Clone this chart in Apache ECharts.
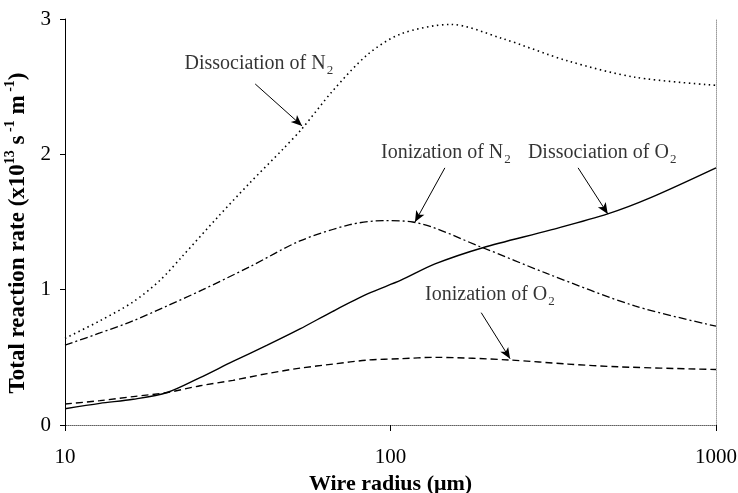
<!DOCTYPE html>
<html><head><meta charset="utf-8">
<script src="https://cdn.jsdelivr.net/npm/echarts@6/dist/echarts.min.js"></script>
<style>html,body{margin:0;padding:0;background:#fff}#c{width:738px;height:493px}</style>
</head><body><div id="c"></div>
<script>
// Data (x: wire radius in µm, y: total reaction rate x1e13 s^-1 m^-1)
const dissN2 = [[10,0.64],[12.8,0.77],[16.2,0.91],[19.6,1.07],[23,1.25],[29.3,1.53],[37,1.79],[46.8,2.04],[53.5,2.19],[66.5,2.47],[85.3,2.74],[107.7,2.89],[153,2.96],[218,2.86],[351,2.69],[563,2.57],[1000,2.51]];
const ionN2 = [[10,0.59],[12.8,0.68],[16.2,0.77],[20.6,0.88],[26.5,1.00],[37,1.17],[52.7,1.36],[75,1.48],[95,1.51],[117,1.50],[192,1.31],[302,1.12],[563,0.88],[1000,0.73]];
const dissO2 = [[10,0.12],[12.8,0.16],[16.2,0.19],[20.6,0.24],[26,0.35],[32.8,0.47],[41.8,0.59],[52.7,0.71],[66.5,0.84],[85.3,0.97],[107.7,1.07],[137,1.19],[192,1.31],[309,1.44],[465,1.56],[630,1.68],[1000,1.90]];
const ionO2 = [[10,0.155],[12.8,0.18],[16.2,0.21],[20.6,0.24],[26,0.29],[32.8,0.33],[41.8,0.38],[52.7,0.42],[66.5,0.45],[85.3,0.48],[107.7,0.49],[137,0.50],[233,0.48],[351,0.45],[500,0.43],[1000,0.41]];
const xTicks = [10, 100, 1000];
const yTicks = [0, 1, 2, 3];
// Annotation labels [x, y, text] and arrows [[x0,y0],[x1,y1]]
const labelData = [
  [39.4, 2.67, 'Dissociation of N{s|2}'],
  [148, 2.01, 'Ionization of N{s|2}'],
  [447, 2.01, 'Dissociation of O{s|2}'],
  [202, 0.96, 'Ionization of O{s|2}']
];
const arrows = [
  [[38.4, 2.52], [53.5, 2.21]],
  [[146.9, 1.90], [118.9, 1.50]],
  [[377, 1.90], [465, 1.56]],
  [[190, 0.83], [233, 0.49]]
];

const FONT = '"Liberation Serif", "Times New Roman", serif';
const chart = echarts.init(document.getElementById('c'), null, {renderer: 'canvas'});
const lineBase = {type: 'line', smooth: 0.3, showSymbol: false, symbol: 'none', xAxisIndex: 0, yAxisIndex: 0, z: 3};
chart.setOption({
  animation: false,
  backgroundColor: '#fff',
  grid: {left: 65, right: 22, top: 19, bottom: 68, containLabel: false, outerBoundsMode: 'none'},
  xAxis: [{
    type: 'log', logBase: 10, min: 10, max: 1000,
    name: 'Wire radius (μm)', nameLocation: 'middle', nameGap: 45,
    nameTextStyle: {fontFamily: FONT, fontWeight: 'bold', fontSize: 22, color: '#000'},
    axisLine: {lineStyle: {color: '#000', width: 1}},
    axisTick: {show: true, length: 6, lineStyle: {color: '#000'}},
    minorTick: {show: false},
    splitLine: {show: false},
    axisLabel: {fontFamily: FONT, fontSize: 21, color: '#000', margin: 22,
      formatter: v => xTicks.includes(Math.round(v)) ? String(Math.round(v)) : ''}
  }, {
    type: 'log', logBase: 10, min: 10, max: 1000, position: 'top',
    axisLine: {show: true, lineStyle: {color: '#9a9a9a', width: 1, type: 'dotted'}},
    axisTick: {show: false}, axisLabel: {show: false}, splitLine: {show: false}
  }],
  yAxis: [{
    type: 'value', min: 0, max: 3, interval: 1,
    name: '{b|Total reaction rate (x10}{sp|13}{b| s}{sp| -1}{b| m}{sp| -1}{b|)}',
    nameLocation: 'middle', nameGap: 35, nameRotate: 90,
    nameTextStyle: {fontFamily: FONT, fontWeight: 'bold', fontSize: 23, color: '#000', padding: [0, 22, 0, 0],
      rich: {
        b: {fontFamily: FONT, fontWeight: 'bold', fontSize: 23, color: '#000', lineHeight: 26, verticalAlign: 'bottom'},
        sp: {fontFamily: FONT, fontWeight: 'bold', fontSize: 14, color: '#000', lineHeight: 26, verticalAlign: 'top'}
      }},
    axisLine: {show: true, lineStyle: {color: '#000', width: 1}},
    axisTick: {show: true, length: 5, lineStyle: {color: '#000'}},
    splitLine: {show: false},
    axisLabel: {fontFamily: FONT, fontSize: 21, color: '#000', margin: 14,
      formatter: v => yTicks.includes(v) ? String(v) : ''}
  }, {
    type: 'value', min: 0, max: 3, interval: 1, position: 'right',
    axisLine: {show: true, lineStyle: {color: '#9a9a9a', width: 1, type: 'dotted'}},
    axisTick: {show: false}, axisLabel: {show: false}, splitLine: {show: false}
  }],
  series: [
    Object.assign({}, lineBase, {name: 'Dissociation of N2', data: dissN2,
      lineStyle: {color: '#000', width: 1.6, type: [1.5, 3.5]}}),
    Object.assign({}, lineBase, {name: 'Ionization of N2', data: ionN2,
      lineStyle: {color: '#000', width: 1.3, type: [8, 3, 2, 3]}}),
    Object.assign({}, lineBase, {name: 'Dissociation of O2', data: dissO2,
      lineStyle: {color: '#000', width: 1.4, type: 'solid'},
      markLine: {
        silent: true, symbol: ['none', 'arrow'], symbolSize: [7, 11],
        lineStyle: {color: '#000', width: 1, type: 'solid'},
        label: {show: false},
        data: arrows.map(a => [{coord: a[0]}, {coord: a[1]}])
      }}),
    Object.assign({}, lineBase, {name: 'Ionization of O2', data: ionO2,
      lineStyle: {color: '#000', width: 1.4, type: [7, 4]}}),
    {
      type: 'scatter', symbolSize: 0, z: 5, silent: true,
      data: labelData.map(d => ({value: [d[0], d[1]], text: d[2]})),
      label: {show: true, position: 'inside', color: '#000', fontFamily: FONT, fontSize: 20,
        formatter: p => '{t|' + p.data.text.replace(/\{s\|/g, '}{s|'),
        rich: {
          t: {fontFamily: FONT, fontSize: 20, color: '#000', lineHeight: 26, verticalAlign: 'middle'},
          s: {fontFamily: FONT, fontSize: 13, color: '#000', lineHeight: 26, verticalAlign: 'bottom', padding: [0,0,0,1]}
        }}
    }
  ]
});
</script></body></html>
